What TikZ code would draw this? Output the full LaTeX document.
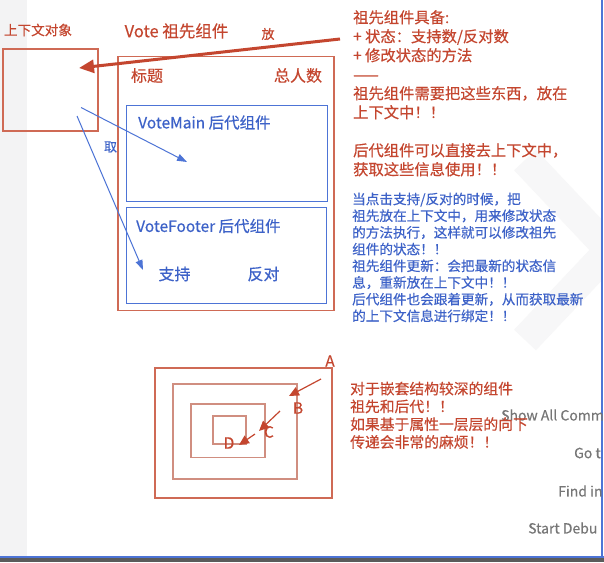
\documentclass[tikz,border=0pt]{standalone}
\usepackage{fontspec}
\setmainfont{Noto Sans CJK SC}[FakeBold=0.4]
\usetikzlibrary{arrows.meta}
\definecolor{vred}{HTML}{C4462F}
\definecolor{vredline}{HTML}{CF6A55}
\definecolor{vpink}{HTML}{D08E80}
\definecolor{vblue}{HTML}{3D62C8}
\definecolor{vblueline}{HTML}{4D74D6}
\definecolor{edgray}{HTML}{F3F3F4}
\definecolor{markgray}{HTML}{F7F7F8}
\definecolor{cmdgray}{HTML}{767676}
\definecolor{bargray}{HTML}{5B5B5B}

\begin{document}
\begin{tikzpicture}[x=1pt,y=-1pt,
    redbox/.style={draw=vredline,line width=1.2pt,inner sep=0pt,outer sep=0pt},
    pinkbox/.style={draw=vpink,line width=1.2pt,inner sep=0pt,outer sep=0pt},
    bluebox/.style={draw=vblueline,line width=1pt,inner sep=0pt,outer sep=0pt},
    redtext/.style={text=vred,inner sep=0pt},
    bluetext/.style={text=vblue,inner sep=0pt},
    cmdtext/.style={text=cmdgray,inner sep=0pt,anchor=west,font=\fontsize{14}{16}\selectfont},
    putarrow/.style={draw=vred,line width=3pt,-{Triangle[length=15pt,width=13pt]}},
    getarrow/.style={draw=vblueline,line width=1pt,-{Triangle[length=10pt,width=7pt]}},
    deeparrow/.style={draw=vred,line width=1.2pt,-{Triangle[length=10pt,width=9pt]}}]
        \useasboundingbox (0,0) rectangle (604,562);
        \fill[white] (0,0) rectangle (604,562);
        \fill[edgray] (0,0) rectangle (27,556);
        % faint watermark behind the notes
        \begin{scope}
            \clip (27,0) rectangle (601,556);
            \draw[markgray,line width=30pt] (525,160) -- (610,250);
            \draw[markgray,line width=30pt] (525,340) -- (610,250);
        \end{scope}
        \fill[vblueline] (0,556) rectangle (604,558);
        \fill[bargray] (0,558) rectangle (604,562);
        \fill[vblueline] (601,0) rectangle (603,556);
        % editor hints under the notes
        \node[cmdtext] (hintall) at (501,415) {Show All Comm};
        \node[cmdtext] (hintgo) at (574,453) {Go t};
        \node[cmdtext] (hintfind) at (558,491) {Find in};
        \node[cmdtext] (hintdebug) at (528,528) {Start Debu};

        % context object and the Vote component
        \node[redtext,font=\fontsize{13.6}{16}\selectfont] (ctxlabel) at (38,30) {上下文对象};
        \node[redbox,minimum width=95pt,minimum height=82pt] (ctx) at (50.5,90) {};
        \node[redtext,font=\fontsize{16.5}{19}\selectfont] (votelabel) at (176.5,31) {Vote 祖先组件};
        \node[redtext,font=\fontsize{13}{15}\selectfont] (putlabel) at (268,34) {放};
        \node[redbox,minimum width=216pt,minimum height=254pt] (vote) at (226,183.5) {};
        \node[redtext,font=\fontsize{16}{19}\selectfont] (title) at (147,75.5) {标题};
        \node[redtext,font=\fontsize{16}{19}\selectfont] (total) at (298,75.5) {总人数};
        \node[bluebox,minimum width=200.5pt,minimum height=96pt] (main) at (226.75,153) {};
        \node[bluetext,font=\fontsize{15.5}{18}\selectfont,anchor=west] (mainlabel) at (138,122.5) {VoteMain 后代组件};
        \node[bluebox,minimum width=200pt,minimum height=96pt] (footer) at (226,255) {};
        \node[bluetext,font=\fontsize{15.5}{18}\selectfont,anchor=west] (footerlabel) at (136,226) {VoteFooter 后代组件};
        \node[bluetext,font=\fontsize{16}{19}\selectfont] (support) at (174.5,274) {支持};
        \node[bluetext,font=\fontsize{16}{19}\selectfont] (oppose) at (263.5,274) {反对};
        \node[bluetext,font=\fontsize{13}{15}\selectfont] (getlabel) at (110.5,147) {取};

        \coordinate (putfrom) at (340,39); \coordinate (putto) at (79,68);
        \draw[putarrow] (putfrom) -- (putto);
        \coordinate (getfromA) at (81,107.5); \coordinate (gettoA) at (187,162);
        \coordinate (getfromB) at (77,116); \coordinate (gettoB) at (143,270);
        \draw[getarrow] (getfromA) -- (gettoA);
        \draw[getarrow] (getfromB) -- (gettoB);

        % notes
        \node[redtext,anchor=north west,align=left,font=\fontsize{15.3}{19}\selectfont] (ancestornote) at (353,10)
            {祖先组件具备:\\+ 状态：支持数/反对数\\+ 修改状态的方法\\——\\祖先组件需要把这些东西，放在\\上下文中！！\\[19pt]后代组件可以直接去上下文中，\\获取这些信息使用！！};
        \node[bluetext,anchor=north west,align=left,font=\fontsize{13.6}{16.7}\selectfont] (updatenote) at (352,192.5)
            {当点击支持/反对的时候，把\\祖先放在上下文中，用来修改状态\\的方法执行，这样就可以修改祖先\\组件的状态！！\\祖先组件更新：会把最新的状态信\\息，重新放在上下文中！！\\后代组件也会跟着更新，从而获取最新\\的上下文信息进行绑定！！};

        % nested components
        \node[redbox,minimum width=177pt,minimum height=130pt] (levelA) at (243.5,433) {};
        \node[pinkbox,minimum width=124pt,minimum height=95pt] (levelB) at (235,431.5) {};
        \node[pinkbox,minimum width=74pt,minimum height=53.5pt] (levelC) at (228,430.75) {};
        \node[pinkbox,minimum width=33pt,minimum height=28pt] (levelD) at (229.5,430) {};
        \node[redtext,font=\fontsize{15.5}{18}\selectfont] (nameA) at (330,361) {A};
        \node[redtext,font=\fontsize{15.5}{18}\selectfont] (nameB) at (298,408) {B};
        \node[redtext,font=\fontsize{15.5}{18}\selectfont] (nameC) at (269,432) {C};
        \node[redtext,font=\fontsize{15.5}{18}\selectfont] (nameD) at (229,443) {D};
        \coordinate (deepA) at (321,379); \coordinate (deepB) at (289,396);
        \coordinate (deepC) at (280,411); \coordinate (deepCto) at (259,431);
        \coordinate (deepD) at (255,434); \coordinate (deepDto) at (239,445);
        \draw[deeparrow] (deepA) -- (deepB);
        \draw[deeparrow] (deepC) -- (deepCto);
        \draw[deeparrow] (deepD) -- (deepDto);
        \node[redtext,anchor=north west,align=left,font=\fontsize{14.8}{17.8}\selectfont] (deepnote) at (350,381.5)
            {对于嵌套结构较深的组件\\祖先和后代！！\\如果基于属性一层层的向下\\传递会非常的麻烦！！};
\end{tikzpicture}
\end{document}
